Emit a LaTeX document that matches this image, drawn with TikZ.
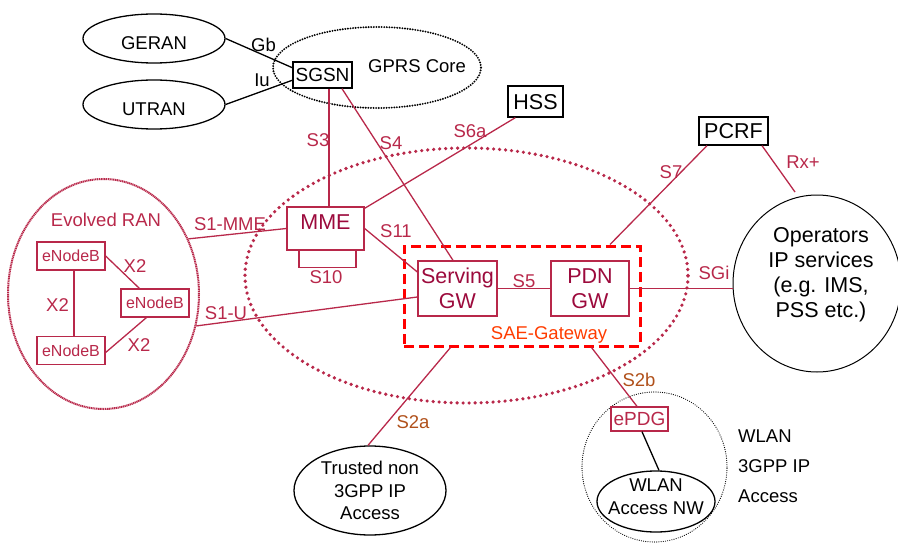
\documentclass[tikz,border=0pt]{standalone}
\usepackage{fontspec}
\setmainfont{Liberation Sans}
\usetikzlibrary{shapes.geometric,calc}
\definecolor{crim}{HTML}{B8284A}
\definecolor{wine}{HTML}{9C0A3C}
\definecolor{brownlbl}{HTML}{B0501A}
\definecolor{saeorange}{HTML}{FF3C00}
\newcommand{\fsA}{\fontsize{18.5}{22.5}\selectfont}
\newcommand{\fsB}{\fontsize{21.5}{25}\selectfont}
\newcommand{\fsC}{\fontsize{16}{19}\selectfont}
\begin{document}
\begin{tikzpicture}[x=1pt,y=-1pt,
  lblA/.style={inner sep=0, font=\fsA, text height=13.2pt, text depth=0pt},
  crimlbl/.style={lblA, text=crim},
  brnlbl/.style={lblA, text=brownlbl},
  blkell/.style={ellipse, draw=black, line width=1.3pt, inner sep=0, font=\fsA, align=center},
  blkbox/.style={rectangle, draw=black, line width=1.3pt, fill=white, inner sep=0},
  winebox/.style={rectangle, draw=crim, line width=1.3pt, fill=white, inner sep=0, text=wine},
  enb/.style={rectangle, draw=crim, line width=1.3pt, fill=white, inner sep=0, text=crim, font=\fsC, text height=11.5pt, text depth=0pt, minimum width=68pt, minimum height=28pt},
  crimline/.style={draw=crim, line width=1.3pt},
  blkline/.style={draw=black, line width=1.3pt}
]
\useasboundingbox (0,0) rectangle (898,543);

% ---- large area ellipses ----
\node[ellipse, draw=crim, line width=3.6pt, dash pattern=on 0pt off 6pt, line cap=round,
      minimum width=443pt, minimum height=255pt, inner sep=0] (core) at (466.5,275.5) {};
\node[ellipse, draw=crim, line width=2pt, dash pattern=on 1.2pt off 0.6pt,
      minimum width=191pt, minimum height=230pt, inner sep=0] (ran) at (103.5,294) {};
\node[ellipse, draw=black, line width=2.1pt, dash pattern=on 0pt off 2.6pt, line cap=round,
      minimum width=208pt, minimum height=81pt, inner sep=0] (gprs) at (377,67.5) {};
\node[ellipse, draw=black, line width=1.2pt, dash pattern=on 0pt off 2.2pt, line cap=round,
      minimum width=145pt, minimum height=150pt, inner sep=0] (wlanc) at (654.5,467) {};

% ---- black ellipses ----
\node[blkell, minimum width=142pt, minimum height=49pt, text height=22.2pt, text depth=0pt] (geran) at (154,38.5) {GERAN};
\node[blkell, minimum width=142pt, minimum height=49pt, text height=22.2pt, text depth=0pt] (utran) at (154,104.5) {UTRAN};
\node[ellipse, draw=black, line width=1pt, minimum width=168pt, minimum height=177pt, inner sep=0] (ops) at (817,283.5) {};
\node[align=center, inner sep=0, font={\fontsize{21.5}{25}\selectfont}] (opstext) at (821,274.9) {Operators\\IP services\\(e.g. IMS,\\PSS etc.)};
\node[blkell, minimum width=152pt, minimum height=89pt] (trusted) at (370,490.5) {Trusted non\\3GPP IP\\Access};
\node[ellipse, draw=black, line width=1.3pt, minimum width=118pt, minimum height=61pt, inner sep=0] (wlanan) at (656,501.5) {};
\node[inner sep=0, font=\fsA, align=center] (wlanantext) at (656,496.8) {WLAN\\Access NW};
\node[inner sep=0, anchor=west, align=left, font={\fontsize{18.5}{30}\selectfont}] (wlantext) at (738,466.4) {WLAN\\3GPP IP\\Access};
\node[lblA, anchor=west] (gprslbl) at (368,66) {GPRS Core};

% ---- SAE gateway box ----
\node[rectangle, draw=red, line width=3pt, dash pattern=on 10pt off 5pt,
      minimum width=236pt, minimum height=100pt, inner sep=0] (sae) at (522,296) {};

% ---- connectors ----
\draw[blkline] (geran.east) -- (293,68) coordinate (sgsnGb);
\draw[blkline] (utran.east) -- (293,80) coordinate (sgsnIu);
\coordinate (rxend) at (795,192);

% boxes
\node[blkbox, font={\fontsize{19}{22}\selectfont}, text height=13.6pt, text depth=0pt, minimum width=59pt, minimum height=26pt] (sgsn) at (322.5,75) {SGSN};
\node[blkbox, font=\fsB, text height=15.4pt, text depth=0pt, minimum width=55pt, minimum height=31pt] (hss) at (535.5,101.5) {HSS};
\node[blkbox, font=\fsB, text height=15.4pt, text depth=0pt, minimum width=69pt, minimum height=28pt] (pcrf) at (733.5,131) {PCRF};
\node[winebox, font=\fsB, text height=15.4pt, text depth=14pt, minimum width=77pt, minimum height=43pt] (mme) at (325.5,228.5) {MME};
\node[winebox, font=\fsB, align=center, minimum width=79pt, minimum height=55pt] (sgw) at (457.5,288.5) {Serving\\GW};
\node[winebox, font=\fsB, align=center, minimum width=78pt, minimum height=55pt] (pgw) at (590,288.5) {PDN\\GW};
\node[enb] (enb1) at (71,256) {eNodeB};
\node[enb] (enb2) at (155,303) {eNodeB};
\node[enb] (enb3) at (71,350.5) {eNodeB};
\node[rectangle, draw=crim, line width=1.3pt, fill=white, inner sep=0, text=crim,
      font={\fontsize{19}{22}\selectfont}, text height=13.6pt, text depth=0pt,
      minimum width=57pt, minimum height=24pt] (epdg) at (639.5,419) {ePDG};

\draw[blkline] (sgsnGb) -- (sgsn.west |- sgsnGb);
\draw[blkline] (sgsnIu) -- (sgsn.west |- sgsnIu);
\draw[crimline] ([xshift=6.5pt]sgsn.south) -- ([xshift=6.5pt]sgsn.south |- mme.north);
\draw[crimline] ([xshift=19.5pt]sgsn.south) -- ([xshift=-4.5pt]sgw.north);
\draw[crimline] ([xshift=8pt]hss.south west) -- ([yshift=-2pt]mme.north east);
\draw[crimline] ([xshift=-26.5pt]pcrf.south) -- ([xshift=88pt]sae.north);
\draw[crimline] ([xshift=28.5pt]pcrf.south) -- (rxend);
\draw[crimline] (pgw.east) -- (pgw.east -| ops.west);
\draw[crimline] (sgw.east) -- (pgw.west);
\draw[crimline] (mme.east) -- ([yshift=16.5pt]sgw.west);
\draw[crimline] (ran.33.5) -- (mme.west);
\draw[crimline] (ran.-19) -- ([yshift=-8.5pt]sgw.west);
\draw[crimline] ([xshift=-26.5pt]mme.south) -- ++(0,17) -| ([xshift=30.5pt]mme.south);
\draw[crimline] ([xshift=3pt]enb1.south) -- ([xshift=3pt]enb3.north);
\draw[crimline] (enb1.east) -- ([xshift=19pt]enb2.north west);
\draw[crimline] ([yshift=-2pt]enb3.east) -- ([xshift=26pt]enb2.south west);
\draw[crimline] ([xshift=48pt]sae.south west) -- ([xshift=-2pt]trusted.north);
\draw[crimline] ([xshift=189pt]sae.south west) -- ([xshift=-2.5pt]epdg.north);
\draw[blkline] ([xshift=2.5pt]epdg.south) -- ([xshift=3pt]wlanan.north);

% ---- labels ----
\node[lblA] (gb) at (263.5,44.5) {Gb};
\node[lblA] (iu) at (262,80) {Iu};
\node[crimlbl] (s3) at (318,140) {S3};
\node[crimlbl] (s4) at (391,143) {S4};
\node[crimlbl] (s6a) at (470,131) {S6a};
\node[crimlbl] (s7) at (671,172) {S7};
\node[crimlbl] (rx) at (803,161.5) {Rx+};
\node[crimlbl] (sgi) at (714,272.5) {SGi};
\node[crimlbl] (s1mme) at (230,223.5) {S1-MME};
\node[crimlbl] (s1u) at (226,312.5) {S1-U};
\node[crimlbl] (s11) at (396,230.5) {S11};
\node[crimlbl] (s10) at (326,277) {S10};
\node[crimlbl] (s5) at (524,280.5) {S5};
\node[lblA, text=saeorange] (saelbl) at (549,332.5) {SAE-Gateway};
\node[brnlbl] (s2a) at (413,421.5) {S2a};
\node[brnlbl] (s2b) at (639,380) {S2b};
\node[crimlbl] (x2a) at (57.5,305) {X2};
\node[crimlbl] (x2b) at (135,265.5) {X2};
\node[crimlbl] (x2c) at (139,344.5) {X2};
\node[crimlbl] (ranlbl) at (106,219.5) {Evolved RAN};
\end{tikzpicture}
\end{document}
